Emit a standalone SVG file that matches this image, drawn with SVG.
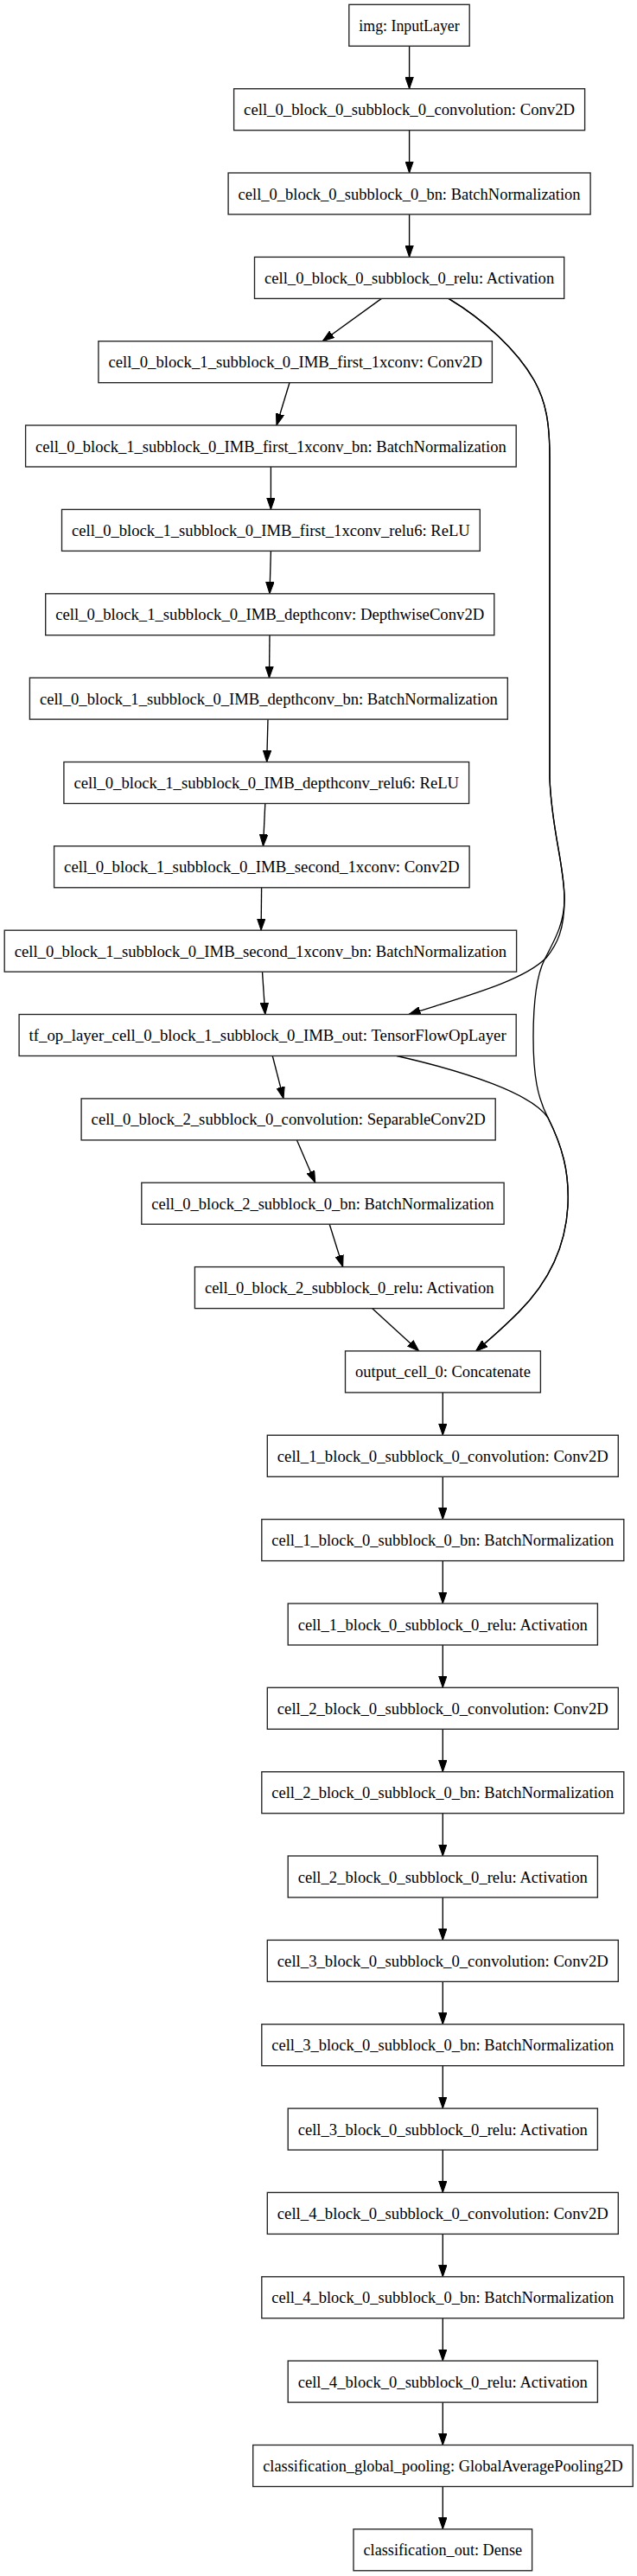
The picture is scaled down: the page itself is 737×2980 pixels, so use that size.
<svg xmlns="http://www.w3.org/2000/svg" width="737" height="2980" viewBox="0 0 737 2980">
<style>
.n rect{fill:#fff;stroke:#222;stroke-width:1.35}
.n text{font-family:"Liberation Serif","Times New Roman",serif;font-size:18.7px;fill:#000;text-anchor:middle}
#edges path,#edges line{fill:none;stroke:#000;stroke-width:1.35;marker-end:url(#ah)}
</style>
<defs>
<marker id="ah" markerUnits="userSpaceOnUse" markerWidth="14" markerHeight="10" refX="13.5" refY="4.7" orient="auto" viewBox="0 0 14 9.4">
<path d="M0,0 L13.5,4.7 L0,9.4 z" fill="#000" stroke="#000" stroke-width="1"/>
</marker>
</defs>
<rect width="737" height="2980" fill="#fff"/>
<g id="edges">
<line x1="473.6" y1="53.3" x2="473.6" y2="102.7"/>
<line x1="473.6" y1="150.7" x2="473.6" y2="200"/>
<line x1="473.6" y1="248" x2="473.6" y2="297.4"/>
<line x1="441.4" y1="345.4" x2="373.2" y2="394.7"/>
<line x1="335" y1="442.7" x2="320" y2="492"/>
<line x1="313.4" y1="540" x2="313.4" y2="589.4"/>
<line x1="313.4" y1="637.4" x2="312" y2="686.8"/>
<line x1="312" y1="734.8" x2="311.5" y2="784.1"/>
<line x1="310" y1="832.1" x2="308.7" y2="881.5"/>
<line x1="306.8" y1="929.5" x2="304.5" y2="978.8"/>
<line x1="302.6" y1="1026.8" x2="302.1" y2="1076.2"/>
<line x1="303.5" y1="1124.2" x2="306.8" y2="1173.5"/>
<line x1="315.3" y1="1221.5" x2="328" y2="1270.9"/>
<line x1="343.5" y1="1318.9" x2="364.7" y2="1368.2"/>
<line x1="381.2" y1="1416.2" x2="396.7" y2="1465.6"/>
<line x1="430.6" y1="1513.6" x2="484.7" y2="1562.9"/>
<path d="M519,345.4 C560,370 598,405 618,440 C632,465 636,490 636,530 L636,900 C638,960 653,1000 653,1040 C653,1075 645,1092 632,1108 C605,1135 540,1152 473,1173.5"/>
<path d="M519,345.4 C560,370 598,405 618,440 C632,465 636,490 636,530 L636,900 C638,960 653,1000 653,1040 C653,1070 640,1090 630,1110 C620,1130 617,1160 617,1200 C617,1245 622,1270 634,1293 C650,1325 659,1355 657,1395 C654,1450 628,1490 600,1518 C582,1536 566,1550 550.6,1562.9"/>
<path d="M459,1221.5 C540,1240 615,1265 634,1293 C650,1325 659,1355 657,1395 C654,1450 628,1490 600,1518 C582,1536 566,1550 550.6,1562.9"/>
<line x1="512.3" y1="1610.9" x2="512.3" y2="1660.3"/>
<line x1="512.3" y1="1708.3" x2="512.3" y2="1757.6"/>
<line x1="512.3" y1="1805.6" x2="512.3" y2="1855"/>
<line x1="512.3" y1="1903" x2="512.3" y2="1952.3"/>
<line x1="512.3" y1="2000.3" x2="512.3" y2="2049.7"/>
<line x1="512.3" y1="2097.7" x2="512.3" y2="2147"/>
<line x1="512.3" y1="2195" x2="512.3" y2="2244.4"/>
<line x1="512.3" y1="2292.4" x2="512.3" y2="2341.7"/>
<line x1="512.3" y1="2389.7" x2="512.3" y2="2439.1"/>
<line x1="512.3" y1="2487.1" x2="512.3" y2="2536.4"/>
<line x1="512.3" y1="2584.4" x2="512.3" y2="2633.8"/>
<line x1="512.3" y1="2681.8" x2="512.3" y2="2731.1"/>
<line x1="512.3" y1="2779.1" x2="512.3" y2="2828.5"/>
<line x1="512.3" y1="2876.5" x2="512.3" y2="2925.8"/>
</g>
<g id="n0" class="n"><rect x="403.8" y="5.3" width="139.4" height="48"/><text x="473.5" y="35.8" textLength="116.4" lengthAdjust="spacingAndGlyphs">img: InputLayer</text></g>
<g id="n1" class="n"><rect x="270.6" y="102.7" width="406" height="48"/><text x="473.6" y="133.2" textLength="383" lengthAdjust="spacingAndGlyphs">cell_0_block_0_subblock_0_convolution: Conv2D</text></g>
<g id="n2" class="n"><rect x="264.1" y="200" width="419" height="48"/><text x="473.6" y="230.5" textLength="396" lengthAdjust="spacingAndGlyphs">cell_0_block_0_subblock_0_bn: BatchNormalization</text></g>
<g id="n3" class="n"><rect x="294.5" y="297.4" width="358.2" height="48"/><text x="473.6" y="327.9" textLength="335.2" lengthAdjust="spacingAndGlyphs">cell_0_block_0_subblock_0_relu: Activation</text></g>
<g id="n4" class="n"><rect x="113.9" y="394.7" width="455.5" height="48"/><text x="341.65" y="425.2" textLength="432.5" lengthAdjust="spacingAndGlyphs">cell_0_block_1_subblock_0_IMB_first_1xconv: Conv2D</text></g>
<g id="n5" class="n"><rect x="29.6" y="492" width="567.6" height="48"/><text x="313.4" y="522.5" textLength="544.6" lengthAdjust="spacingAndGlyphs">cell_0_block_1_subblock_0_IMB_first_1xconv_bn: BatchNormalization</text></g>
<g id="n6" class="n"><rect x="71.5" y="589.4" width="483.8" height="48"/><text x="313.4" y="619.9" textLength="460.8" lengthAdjust="spacingAndGlyphs">cell_0_block_1_subblock_0_IMB_first_1xconv_relu6: ReLU</text></g>
<g id="n7" class="n"><rect x="52.7" y="686.8" width="519.1" height="48"/><text x="312.25" y="717.3" textLength="496.1" lengthAdjust="spacingAndGlyphs">cell_0_block_1_subblock_0_IMB_depthconv: DepthwiseConv2D</text></g>
<g id="n8" class="n"><rect x="34.4" y="784.1" width="552.9" height="48"/><text x="310.85" y="814.6" textLength="529.9" lengthAdjust="spacingAndGlyphs">cell_0_block_1_subblock_0_IMB_depthconv_bn: BatchNormalization</text></g>
<g id="n9" class="n"><rect x="73.9" y="881.5" width="468.7" height="48"/><text x="308.25" y="912" textLength="445.7" lengthAdjust="spacingAndGlyphs">cell_0_block_1_subblock_0_IMB_depthconv_relu6: ReLU</text></g>
<g id="n10" class="n"><rect x="62.6" y="978.8" width="480.5" height="48"/><text x="302.85" y="1009.3" textLength="457.5" lengthAdjust="spacingAndGlyphs">cell_0_block_1_subblock_0_IMB_second_1xconv: Conv2D</text></g>
<g id="n11" class="n"><rect x="5.2" y="1076.2" width="592.4" height="48"/><text x="301.4" y="1106.7" textLength="569.4" lengthAdjust="spacingAndGlyphs">cell_0_block_1_subblock_0_IMB_second_1xconv_bn: BatchNormalization</text></g>
<g id="n12" class="n"><rect x="22.1" y="1173.5" width="575.1" height="48"/><text x="309.65" y="1204" textLength="552.1" lengthAdjust="spacingAndGlyphs">tf_op_layer_cell_0_block_1_subblock_0_IMB_out: TensorFlowOpLayer</text></g>
<g id="n13" class="n"><rect x="94.1" y="1270.9" width="479.1" height="48"/><text x="333.65" y="1301.4" textLength="456.1" lengthAdjust="spacingAndGlyphs">cell_0_block_2_subblock_0_convolution: SeparableConv2D</text></g>
<g id="n14" class="n"><rect x="163.8" y="1368.2" width="419.3" height="48"/><text x="373.45" y="1398.7" textLength="396.3" lengthAdjust="spacingAndGlyphs">cell_0_block_2_subblock_0_bn: BatchNormalization</text></g>
<g id="n15" class="n"><rect x="225.4" y="1465.6" width="357.7" height="48"/><text x="404.25" y="1496.1" textLength="334.7" lengthAdjust="spacingAndGlyphs">cell_0_block_2_subblock_0_relu: Activation</text></g>
<g id="n16" class="n"><rect x="399.5" y="1562.9" width="225.9" height="48"/><text x="512.45" y="1593.4" textLength="202.9" lengthAdjust="spacingAndGlyphs">output_cell_0: Concatenate</text></g>
<g id="n17" class="n"><rect x="309.3" y="1660.3" width="406" height="48"/><text x="512.3" y="1690.8" textLength="383" lengthAdjust="spacingAndGlyphs">cell_1_block_0_subblock_0_convolution: Conv2D</text></g>
<g id="n18" class="n"><rect x="302.8" y="1757.6" width="419" height="48"/><text x="512.3" y="1788.1" textLength="396" lengthAdjust="spacingAndGlyphs">cell_1_block_0_subblock_0_bn: BatchNormalization</text></g>
<g id="n19" class="n"><rect x="333.2" y="1855" width="358.2" height="48"/><text x="512.3" y="1885.5" textLength="335.2" lengthAdjust="spacingAndGlyphs">cell_1_block_0_subblock_0_relu: Activation</text></g>
<g id="n20" class="n"><rect x="309.3" y="1952.3" width="406" height="48"/><text x="512.3" y="1982.8" textLength="383" lengthAdjust="spacingAndGlyphs">cell_2_block_0_subblock_0_convolution: Conv2D</text></g>
<g id="n21" class="n"><rect x="302.8" y="2049.7" width="419" height="48"/><text x="512.3" y="2080.2" textLength="396" lengthAdjust="spacingAndGlyphs">cell_2_block_0_subblock_0_bn: BatchNormalization</text></g>
<g id="n22" class="n"><rect x="333.2" y="2147" width="358.2" height="48"/><text x="512.3" y="2177.5" textLength="335.2" lengthAdjust="spacingAndGlyphs">cell_2_block_0_subblock_0_relu: Activation</text></g>
<g id="n23" class="n"><rect x="309.3" y="2244.4" width="406" height="48"/><text x="512.3" y="2274.9" textLength="383" lengthAdjust="spacingAndGlyphs">cell_3_block_0_subblock_0_convolution: Conv2D</text></g>
<g id="n24" class="n"><rect x="302.8" y="2341.7" width="419" height="48"/><text x="512.3" y="2372.2" textLength="396" lengthAdjust="spacingAndGlyphs">cell_3_block_0_subblock_0_bn: BatchNormalization</text></g>
<g id="n25" class="n"><rect x="333.2" y="2439.1" width="358.2" height="48"/><text x="512.3" y="2469.6" textLength="335.2" lengthAdjust="spacingAndGlyphs">cell_3_block_0_subblock_0_relu: Activation</text></g>
<g id="n26" class="n"><rect x="309.3" y="2536.4" width="406" height="48"/><text x="512.3" y="2566.9" textLength="383" lengthAdjust="spacingAndGlyphs">cell_4_block_0_subblock_0_convolution: Conv2D</text></g>
<g id="n27" class="n"><rect x="302.8" y="2633.8" width="419" height="48"/><text x="512.3" y="2664.3" textLength="396" lengthAdjust="spacingAndGlyphs">cell_4_block_0_subblock_0_bn: BatchNormalization</text></g>
<g id="n28" class="n"><rect x="333.2" y="2731.1" width="358.2" height="48"/><text x="512.3" y="2761.6" textLength="335.2" lengthAdjust="spacingAndGlyphs">cell_4_block_0_subblock_0_relu: Activation</text></g>
<g id="n29" class="n"><rect x="292.7" y="2828.5" width="439.5" height="48"/><text x="512.45" y="2859" textLength="416.5" lengthAdjust="spacingAndGlyphs">classification_global_pooling: GlobalAveragePooling2D</text></g>
<g id="n30" class="n"><rect x="409" y="2925.8" width="206.6" height="48"/><text x="512.3" y="2956.3" textLength="183.6" lengthAdjust="spacingAndGlyphs">classification_out: Dense</text></g>
</svg>
